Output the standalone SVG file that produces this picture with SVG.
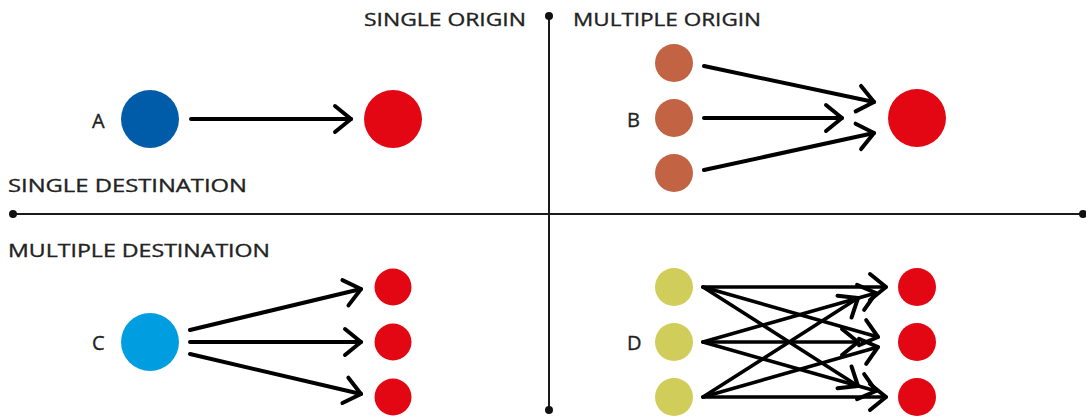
<svg xmlns="http://www.w3.org/2000/svg" width="1086" height="420" viewBox="0 0 1086 420">
  <style>
    .axis { stroke: #1a1a1a; stroke-width: 2; fill: none; }
    .dot { fill: #111; }
    .lbl { font-family: "Open Sans", Lato, "Liberation Sans", sans-serif; font-size: 19px; fill: #222; stroke: #222; stroke-width: 0.35; }
    .key { font-family: "Open Sans", Lato, "Liberation Sans", sans-serif; font-size: 20px; fill: #222; stroke: #222; stroke-width: 0.35; }
    .flow { stroke: #000; stroke-width: 4; fill: none; stroke-linecap: round; marker-end: url(#chev); }
    .flow-thin { stroke: #000; stroke-width: 3.6; fill: none; stroke-linecap: round; marker-end: url(#chev); }
    .dest { fill: #e30613; }
  </style>
  <defs>
    <marker id="chev" markerUnits="userSpaceOnUse" viewBox="-20 -16 24 32" refX="0" refY="0" markerWidth="24" markerHeight="32" orient="auto">
      <path d="M -16 -13 L 0 0 L -16 13" fill="none" stroke="#000" stroke-width="4" stroke-linecap="round" stroke-linejoin="round"/>
    </marker>
  </defs>

  <rect width="1086" height="420" fill="#fff"/>

  <!-- axes -->
  <g id="axes">
    <line class="axis" x1="13" y1="214" x2="1083" y2="214"/>
    <line class="axis" x1="549" y1="16" x2="549" y2="410"/>
    <circle class="dot" cx="13" cy="214" r="4"/>
    <circle class="dot" cx="1083" cy="214" r="4"/>
    <circle class="dot" cx="549" cy="16" r="4"/>
    <circle class="dot" cx="549" cy="410" r="4"/>
    <text class="lbl" x="364" y="26" textLength="162" lengthAdjust="spacingAndGlyphs">SINGLE ORIGIN</text>
    <text class="lbl" x="573" y="26" textLength="188" lengthAdjust="spacingAndGlyphs">MULTIPLE ORIGIN</text>
    <text class="lbl" x="8" y="192" textLength="239" lengthAdjust="spacingAndGlyphs">SINGLE DESTINATION</text>
    <text class="lbl" x="8" y="257" textLength="262" lengthAdjust="spacingAndGlyphs">MULTIPLE DESTINATION</text>
  </g>

  <!-- A: single origin, single destination -->
  <g id="node-a">
    <text class="key" x="92" y="128">A</text>
    <circle cx="150" cy="119" r="29" fill="#005ca9"/>
    <circle class="dest" cx="393" cy="119" r="29"/>
  </g>

  <!-- B: multiple origin, single destination -->
  <g id="node-b">
    <text class="key" x="627" y="127">B</text>
    <circle cx="674" cy="63" r="19" fill="#c26443"/>
    <circle cx="674" cy="118" r="19" fill="#c26443"/>
    <circle cx="674" cy="173" r="19" fill="#c26443"/>
    <circle class="dest" cx="917" cy="118" r="29"/>
  </g>

  <!-- C: single origin, multiple destination -->
  <g id="node-c">
    <text class="key" x="92" y="350">C</text>
    <circle cx="150" cy="342" r="29" fill="#009ee0"/>
    <circle class="dest" cx="393" cy="287" r="18.5"/>
    <circle class="dest" cx="393" cy="342" r="18.5"/>
    <circle class="dest" cx="393" cy="397" r="18.5"/>
  </g>

  <!-- D: multiple origin, multiple destination -->
  <g id="node-d">
    <text class="key" x="627" y="350">D</text>
    <circle cx="674" cy="287" r="19" fill="#d0cd5a"/>
    <circle cx="674" cy="342" r="19" fill="#d0cd5a"/>
    <circle cx="674" cy="397" r="19" fill="#d0cd5a"/>
    <circle class="dest" cx="917" cy="287" r="19"/>
    <circle class="dest" cx="917" cy="342" r="19"/>
    <circle class="dest" cx="917" cy="397" r="19"/>
  </g>

  <!-- connectors -->
  <g id="connectors">
    <!-- A -->
    <line class="flow" x1="191" y1="119" x2="351" y2="119"/>
    <!-- B -->
    <line class="flow" x1="704" y1="66" x2="874" y2="102"/>
    <line class="flow" x1="704" y1="118" x2="842" y2="118"/>
    <line class="flow" x1="704" y1="170" x2="874" y2="133"/>
    <!-- C -->
    <line class="flow" x1="190" y1="330" x2="361" y2="289"/>
    <line class="flow" x1="190" y1="342" x2="361" y2="342"/>
    <line class="flow" x1="190" y1="354" x2="361" y2="394"/>
    <!-- D: every origin to every destination -->
    <line class="flow-thin" x1="703" y1="287" x2="886" y2="287"/>
    <line class="flow-thin" x1="703" y1="287" x2="878" y2="337"/>
    <line class="flow-thin" x1="703" y1="287" x2="858" y2="386"/>
    <line class="flow-thin" x1="703" y1="342" x2="876" y2="293"/>
    <line class="flow-thin" x1="703" y1="342" x2="858" y2="342"/>
    <line class="flow-thin" x1="703" y1="342" x2="876" y2="391"/>
    <line class="flow-thin" x1="703" y1="397" x2="858" y2="298"/>
    <line class="flow-thin" x1="703" y1="397" x2="878" y2="347"/>
    <line class="flow-thin" x1="703" y1="397" x2="886" y2="397"/>
  </g>
</svg>
